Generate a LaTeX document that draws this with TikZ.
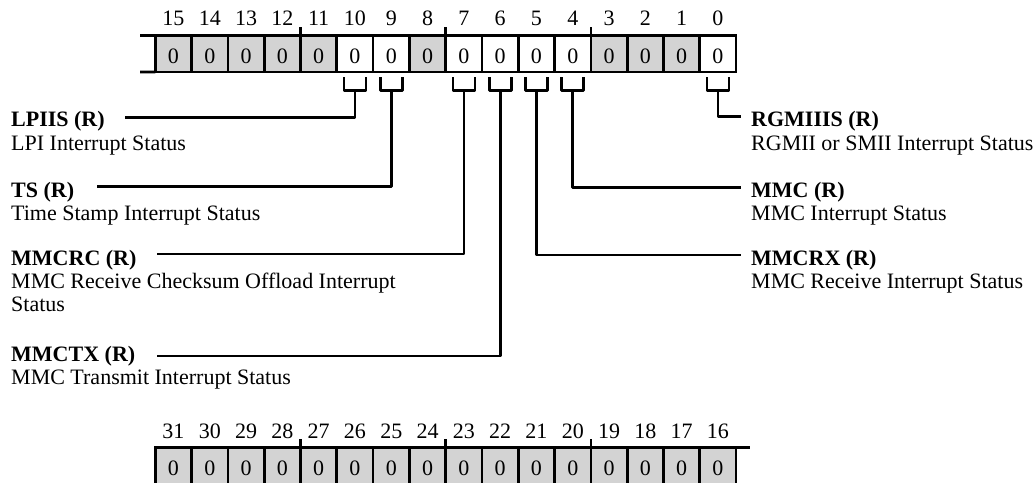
\documentclass[tikz,border=0pt]{standalone}
\usepackage{fontspec}
\setmainfont{Liberation Serif}
\usetikzlibrary{calc}
\definecolor{cellgray}{RGB}{211,211,211}
\begin{document}
\begin{tikzpicture}[x=1pt,y=-1pt,
  reg/.style={line width=2.7pt},
  cell/.style={draw, line width=2.7pt, minimum width=36.3pt, minimum height=36.7pt,
    inner sep=0pt, outer sep=0pt, text height=19.3pt, text depth=0pt,
    font=\fontsize{22}{26}\selectfont},
  bitnum/.style={anchor=base, inner sep=0pt, font=\fontsize{22}{26}\selectfont},
  conn/.style={line width=2.7pt, line join=round},
  title/.style={anchor=base west, inner sep=0pt, font=\fontsize{22}{26}\selectfont\bfseries},
  desc/.style={anchor=base west, inner sep=0pt, font=\fontsize{22}{26}\selectfont}]
\clip (0,0) rectangle (1036,482);

% top register, bits 15..0
\foreach \b/\f in {15/cellgray,14/cellgray,13/cellgray,12/cellgray,11/cellgray,10/white,9/white,8/cellgray,7/white,6/white,5/white,4/white,3/cellgray,2/cellgray,1/cellgray,0/white}{
  \pgfmathsetmacro\cx{155.3+(15.5-\b)*36.3}
  \node[cell, fill=\f] (c\b) at (\cx,53.65) {0};
  \node[bitnum] (n\b) at (\cx,25) {\b};
}
% bottom register, bits 31..16
\foreach \b in {16,...,31}{
  \pgfmathsetmacro\cx{155.3+(31.5-\b)*36.3}
  \node[cell, fill=cellgray] (c\b) at (\cx,465.85) {0};
  \node[bitnum] (n\b) at (\cx,438) {\b};
}
% register continuation lines
\draw[reg] (140,35.3) -- (c15.north west);
\draw[reg] (140,72) -- (c15.south west);
\draw[reg] (c16.north east) -- (750,447.5);
% nibble ticks
\foreach \t in {11,7,3,27,23,19}{
  \draw[reg] (c\t.north west) -- ++(0,-8.6);
}
% brackets
\foreach \b in {10,9,7,6,5,4,0}{
  \draw[conn] ($(c\b.south)+(-11,5.3)$) -- ++(0,13) -- ++(22,0) -- ++(0,-13);
  \coordinate (k\b) at ($(c\b.south)+(0,18.3)$);
}
% labels
\node[title] (lpiis) at (11,126.7) {LPIIS (R)};
\node[desc] (lpiisd) at (11,150.3) {LPI Interrupt Status};
\node[title] (ts) at (11,197.3) {TS (R)};
\node[desc] (tsd) at (11,220.3) {Time Stamp Interrupt Status};
\node[title] (mmcrc) at (11,265) {MMCRC (R)};
\node[desc] (mmcrcd) at (11,288) {MMC Receive Checksum Offload Interrupt};
\node[desc] (mmcrcd2) at (11,311) {Status};
\node[title] (mmctx) at (11,361.7) {MMCTX (R)};
\node[desc] (mmctxd) at (11,384.7) {MMC Transmit Interrupt Status};
\node[title] (rgmiiis) at (751,126.7) {RGMIIIS (R)};
\node[desc] (rgmiiisd) at (751,150.3) {RGMII or SMII Interrupt Status};
\node[title] (mmc) at (751,197.3) {MMC (R)};
\node[desc] (mmcd) at (751,220.3) {MMC Interrupt Status};
\node[title] (mmcrx) at (751,265) {MMCRX (R)};
\node[desc] (mmcrxd) at (751,288) {MMC Receive Interrupt Status};
% connector free ends
\coordinate (eLPIIS) at (125,117.7);
\coordinate (eTS) at (96.7,186.7);
\coordinate (eMMCRC) at (156.7,254);
\coordinate (eMMCTX) at (156.7,356);
\coordinate (eRGMIIIS) at (741,116.7);
\coordinate (eMMC) at (741,187.3);
\coordinate (eMMCRX) at (741,255);
% connectors
\draw[conn] (k10) |- (eLPIIS);
\draw[conn] (k9) |- (eTS);
\draw[conn] (k7) |- (eMMCRC);
\draw[conn] (k6) |- (eMMCTX);
\draw[conn] (k0) |- (eRGMIIIS);
\draw[conn] (k4) |- (eMMC);
\draw[conn] (k5) |- (eMMCRX);
\end{tikzpicture}
\end{document}
